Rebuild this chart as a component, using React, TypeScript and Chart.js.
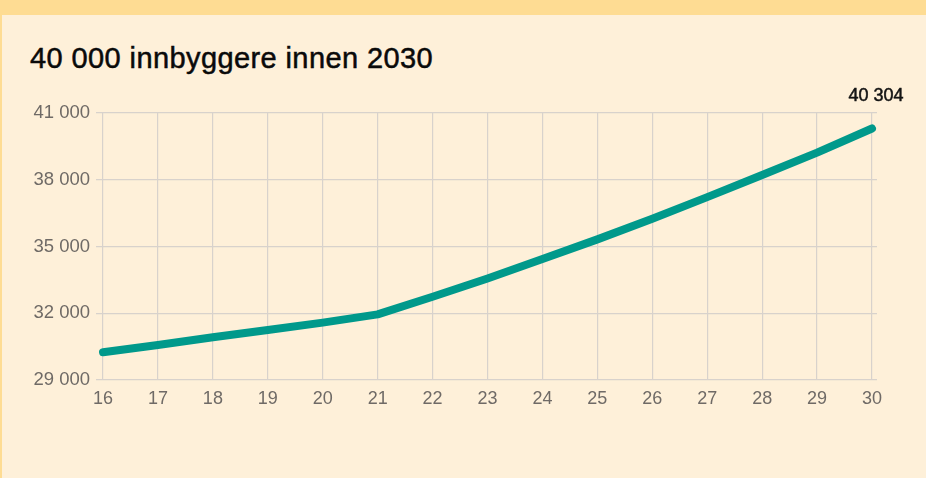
import React, { useEffect, useRef } from "react";
import { Chart, registerables } from "chart.js";

Chart.register(...registerables);

const title = "40 000 innbyggere innen 2030";
const years = [16, 17, 18, 19, 20, 21, 22, 23, 24, 25, 26, 27, 28, 29, 30];
const population = [30250, 30570, 30920, 31250, 31580, 31950, 32740, 33560, 34440, 35320, 36250, 37220, 38210, 39220, 40304];
const yMin = 29000;
const yMax = 41000;
const yStep = 3000;

const fmt = (v: number) => String(Math.round(v)).replace(/\B(?=(\d{3})+(?!\d))/g, " ");

const FONT = "'Liberation Sans', Arial, Helvetica, sans-serif";

const lastLabelPlugin = {
  id: "lastLabel",
  afterDatasetsDraw(chart: any) {
    const meta = chart.getDatasetMeta(0);
    const pt = meta.data[meta.data.length - 1];
    if (!pt) return;
    const ctx = chart.ctx;
    ctx.save();
    ctx.font = `18px ${FONT}`;
    ctx.fillStyle = "#141414";
    ctx.strokeStyle = "#141414";
    ctx.lineWidth = 0.5;
    ctx.textAlign = "center";
    ctx.textBaseline = "alphabetic";
    const t = fmt(population[population.length - 1]);
    ctx.fillText(t, pt.x + 4, pt.y - 27);
    ctx.strokeText(t, pt.x + 4, pt.y - 27);
    ctx.restore();
  },
};

export default function App() {
  const ref = useRef<HTMLCanvasElement | null>(null);

  useEffect(() => {
    if (!ref.current) return;
    const chart = new Chart(ref.current, {
      type: "line",
      data: {
        datasets: [
          {
            data: years.map((x, i) => ({ x, y: population[i] })),
            borderColor: "#00998b",
            borderWidth: 8,
            borderCapStyle: "round",
            borderJoinStyle: "round",
            pointRadius: 0,
            tension: 0,
            fill: false,
          },
        ],
      },
      options: {
        animation: false,
        responsive: true,
        maintainAspectRatio: false,
        layout: { padding: { top: 113, right: 49, bottom: 0, left: 0 } },
        plugins: {
          legend: { display: false },
          tooltip: { enabled: false },
          title: { display: false },
        },
        scales: {
          x: {
            type: "linear",
            min: 15.872,
            max: 30.091,
            afterFit: (s: any) => {
              s.height = 98;
            },
            ticks: {
              stepSize: 1,
              includeBounds: false,
              padding: 8,
              color: "#6f6a66",
              font: { family: FONT, size: 18 },
              callback: (v: any) => String(v),
            },
            grid: { color: "#d8d2cc", lineWidth: 1.2, drawTicks: false },
            border: { display: false },
          },
          y: {
            min: yMin,
            max: yMax,
            afterFit: (s: any) => {
              s.width = 96;
            },
            ticks: {
              stepSize: yStep,
              padding: 6,
              color: "#6f6a66",
              font: { family: FONT, size: 18.5 },
              callback: (v: any) => fmt(Number(v)),
            },
            grid: { color: "#d8d2cc", lineWidth: 1.2, drawTicks: false },
            border: { display: false },
          },
        },
      },
      plugins: [lastLabelPlugin],
    } as any);
    return () => chart.destroy();
  }, []);

  return (
    <div
      style={{
        position: "absolute",
        left: 0,
        top: 0,
        width: 926,
        height: 478,
        background: "#fef0d9",
        overflow: "hidden",
      }}
    >
      <div style={{ position: "absolute", left: 0, top: 0, width: 926, height: 15, background: "#fedc93" }} />
      <div style={{ position: "absolute", left: 0, top: 15, width: 2, height: 463, background: "#fedc93" }} />
      <div
        style={{
          position: "absolute",
          left: 30,
          top: 43.5,
          fontFamily: FONT,
          fontSize: 29,
          lineHeight: "29px",
          letterSpacing: "0.4px",
          color: "#0a0a0a",
          whiteSpace: "nowrap",
          WebkitTextStroke: "0.5px #0a0a0a",
        }}
      >
        {title}
      </div>
      <div style={{ position: "absolute", left: 0, top: 0, width: 926, height: 478 }}>
        <canvas ref={ref} />
      </div>
    </div>
  );
}
